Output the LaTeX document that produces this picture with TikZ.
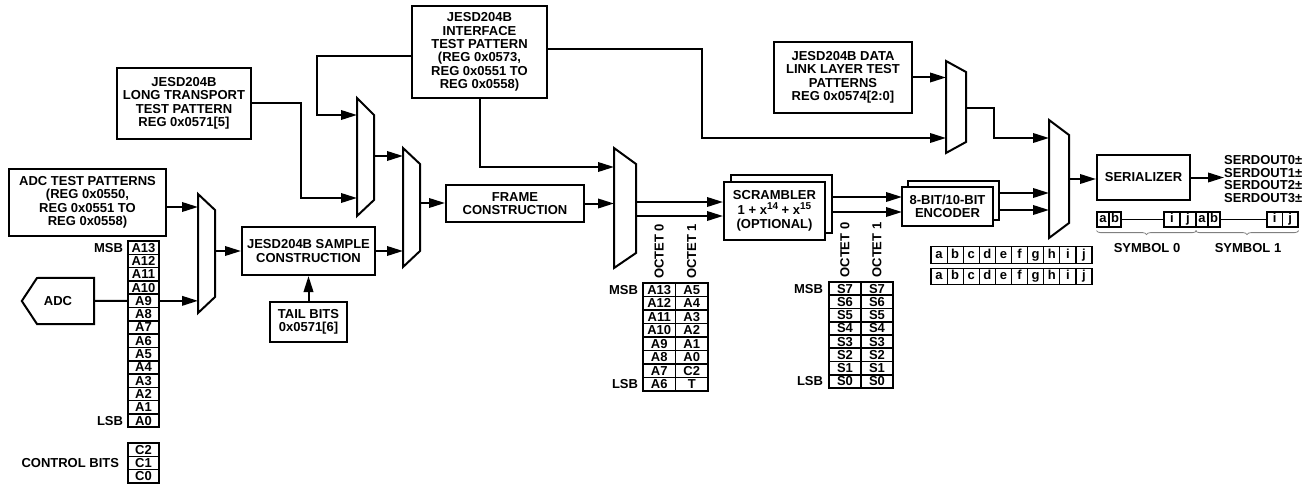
\documentclass[tikz,border=0pt]{standalone}
\usepackage{fontspec}
\setmainfont{Liberation Sans}
\usetikzlibrary{arrows.meta,decorations.pathreplacing}

\begin{document}
\begin{tikzpicture}[x=1pt, y=-1pt,
  every node/.style={font=\fontsize{13}{13.4}\selectfont\bfseries, inner sep=0pt},
  blk/.style={draw, line width=2pt, align=center},
  arr/.style={line width=2pt, -{Triangle[length=16pt,width=9.5pt]}},
  wire/.style={line width=2pt},
  muxs/.style={draw, line width=2pt, line join=miter},
  bitcell/.style={draw, line width=1.6pt, minimum height=13.3pt, minimum width=31pt},
  octcell/.style={draw, line width=1.6pt, minimum height=13.4pt, minimum width=32.5pt},
  letcell/.style={draw, line width=1.2pt, minimum height=16.5pt, minimum width=16.1pt,
    text height=9.4pt, text depth=2.6pt, font=\fontsize{13}{13}\selectfont\bfseries},
  sercell/.style={draw, line width=1.2pt, minimum height=15pt,
    text height=9.4pt, text depth=2.6pt, font=\fontsize{13}{13}\selectfont\bfseries},
  brc/.style={draw=gray, line width=0.8pt, decorate, decoration={brace, amplitude=4pt}}]
\fill[white] (0,0) rectangle (1308,484);
\useasboundingbox (0,0) rectangle (1308,484);

% test pattern sources
\node[blk, minimum width=157pt, minimum height=67pt] (adctp) at (87.5,202.5)
  {ADC TEST PATTERNS\\(REG 0x0550,\\REG 0x0551 TO\\REG 0x0558)};
\node[blk, minimum width=134pt, minimum height=71pt] (ltp) at (184,103.5)
  {JESD204B\\LONG TRANSPORT\\TEST PATTERN\\REG 0x0571[5]};
\node[blk, minimum width=135pt, minimum height=92pt] (itp) at (479.5,52)
  {JESD204B\\INTERFACE\\TEST PATTERN\\(REG 0x0573,\\REG 0x0551 TO\\REG 0x0558)};
\node[blk, minimum width=138pt, minimum height=71pt] (dll) at (843,77.5)
  {JESD204B DATA\\LINK LAYER TEST\\PATTERNS\\REG 0x0574[2:0]};

% processing blocks
\node[blk, minimum width=133pt, minimum height=48pt] (jsc) at (308.5,251)
  {JESD204B SAMPLE\\CONSTRUCTION};
\node[blk, minimum width=77pt, minimum height=40pt] (tail) at (308.5,322)
  {TAIL BITS\\0x0571[6]};
\node[blk, minimum width=138pt, minimum height=37pt] (frame) at (515,203.5)
  {FRAME\\CONSTRUCTION};
\node[blk, fill=white, minimum width=101pt, minimum height=58pt] (scrb) at (781.5,204) {};
\node[blk, fill=white, minimum width=101pt, minimum height=58pt] (scr) at (774.5,211)
  {SCRAMBLER\\[1pt]1 + x\raisebox{4.5pt}{\fontsize{10}{10}\selectfont 14} + x\raisebox{4.5pt}{\fontsize{10}{10}\selectfont 15}\\[1pt](OPTIONAL)};
\node[blk, fill=white, minimum width=91pt, minimum height=39pt] (encb) at (953.5,200.5) {};
\node[blk, fill=white, minimum width=91pt, minimum height=39pt] (enc) at (947.5,206.5)
  {8-BIT/10-BIT\\ENCODER};
\node[blk, minimum width=93pt, minimum height=45pt] (ser) at (1143.5,177.5) {SERIALIZER};
\node[anchor=west, align=left, font=\fontsize{13}{12.7}\selectfont\bfseries] (sout) at (1224,179)
  {SERDOUT0\char"00B1\\SERDOUT1\char"00B1\\SERDOUT2\char"00B1\\SERDOUT3\char"00B1};

% ADC
\node[minimum width=72pt, minimum height=46pt] (adc) at (58,301) {ADC};
\draw[wire, line join=miter] (adc.west) -- (37,278) -- (adc.north east) -- (adc.south east)
  -- (37,324) -- cycle;

% multiplexers
\draw[muxs] (198,194) -- (215,210) -- (215,297) -- (198,313) -- cycle;
\coordinate (m1a) at (198,207); \coordinate (m1b) at (198,301); \coordinate (m1o) at (215,251);
\draw[muxs] (357,98) -- (374,115) -- (374,200) -- (357,216) -- cycle;
\coordinate (m2a) at (357,115); \coordinate (m2b) at (357,198); \coordinate (m2o) at (374,156);
\draw[muxs] (403,148) -- (420,164) -- (420,251) -- (403,267) -- cycle;
\coordinate (m3a) at (403,156); \coordinate (m3b) at (403,251); \coordinate (m3o) at (420,203);
\draw[muxs] (614,148) -- (636,164) -- (636,253) -- (614,268) -- cycle;
\coordinate (m4a) at (614,167); \coordinate (m4b) at (614,204);
\coordinate (m4p) at (636,202); \coordinate (m4q) at (636,216);
\draw[muxs] (946,61) -- (966,72) -- (966,142) -- (946,153) -- cycle;
\coordinate (m5a) at (946,77); \coordinate (m5b) at (946,138); \coordinate (m5o) at (966,108);
\draw[muxs] (1049,120) -- (1069,135) -- (1069,223) -- (1049,238) -- cycle;
\coordinate (m6a) at (1049,138); \coordinate (m6b) at (1049,193); \coordinate (m6c) at (1049,210);
\coordinate (m6o) at (1069,179);
\coordinate (ena) at (902,197); \coordinate (enb) at (902,212);

% ADC sample bits
\foreach \b [count=\i from 0] in {13,12,...,0}
  \node[bitcell] (a\b) at (143.5,{247.65+13.3*\i}) {A\b};
\node[anchor=east] (msb1) at ([xshift=-4pt]a13.west) {MSB};
\node[anchor=east] (lsb1) at ([xshift=-4pt]a0.west) {LSB};
\foreach \b [count=\i from 0] in {2,1,0}
  \node[bitcell] (c\b) at (143.5,{449.65+13.3*\i}) {C\b};
\node[anchor=east] (ctrl) at ([xshift=-8pt]c1.west) {CONTROL BITS};

% octets after framing
\foreach \u/\v [count=\i from 0] in {A13/A5,A12/A4,A11/A3,A10/A2,A9/A1,A8/A0,A7/C2,A6/T} {
  \node[octcell] (fa\i) at (659.25,{289.75+13.5*\i}) {\u};
  \node[octcell] (fb\i) at (691.75,{289.75+13.5*\i}) {\v};
}
\node[rotate=90] (fo0) at (659.25,251.5) {OCTET 0};
\node[rotate=90] (fo1) at (691.75,251.5) {OCTET 1};
\node[anchor=east] (msb2) at ([xshift=-4pt]fa0.west) {MSB};
\node[anchor=east] (lsb2) at ([xshift=-4pt]fa7.west) {LSB};

% octets after scrambling
\foreach \b [count=\i from 0] in {7,6,...,0} {
  \node[octcell, minimum width=32pt, minimum height=13.25pt] (sa\i) at (845,{288.6+13.25*\i}) {S\b};
  \node[octcell, minimum width=32pt, minimum height=13.25pt] (sb\i) at (877,{288.6+13.25*\i}) {S\b};
}
\node[rotate=90] (so0) at (845,250) {OCTET 0};
\node[rotate=90] (so1) at (877,250) {OCTET 1};
\node[anchor=east] (msb3) at ([xshift=-5pt]sa0.west) {MSB};
\node[anchor=east] (lsb3) at ([xshift=-5pt]sa7.west) {LSB};

% 10-bit symbols
\foreach \c [count=\i from 0] in {a,...,j} {
  \node[letcell] (ea\i) at ({939.05+16.1*\i},255) {\c};
  \node[letcell] (eb\i) at ({939.05+16.1*\i},276.5) {\c};
}

% serial stream
\node[sercell, minimum width=12pt] (s0a) at (1103,219.5) {a};
\node[sercell, minimum width=12pt] (s0b) at (1115,219.5) {b};
\node[sercell, minimum width=16pt] (s0i) at (1172,219.5) {i};
\node[sercell, minimum width=16pt] (s0j) at (1188,219.5) {j};
\node[sercell, minimum width=12pt] (s1a) at (1202,219.5) {a};
\node[sercell, minimum width=12pt] (s1b) at (1214,219.5) {b};
\node[sercell, minimum width=15.5pt] (s1i) at (1274.75,219.5) {i};
\node[sercell, minimum width=15.5pt] (s1j) at (1290.25,219.5) {j};
\draw[line width=1.1pt] (s0b) -- (s0i);
\draw[line width=1.1pt] (s1b) -- (s1i);
\draw[brc] ([yshift=-3pt]s0j.south east) -- ([yshift=-3pt]s0a.south west);
\draw[brc] ([yshift=-3pt]s1j.south east) -- ([yshift=-3pt]s1a.south west);
\node (sym0) at (1147,248) {SYMBOL 0};
\node (sym1) at (1248,248) {SYMBOL 1};

% connections
\draw[arr] (m1a -| adctp.east) -- (m1a);
\draw[wire] (adc) -- (a9);
\draw[arr] (a9.east) -- (a9.east -| m1b);
\draw[arr] (m1o) -- (m1o -| jsc.west);
\draw[arr] (tail) -- (jsc);
\draw[arr] (jsc.east) -- (jsc.east -| m3b);
\draw[arr] ([yshift=-4pt]itp.west) -| ([xshift=-40pt]m2a) -- (m2a);
\draw[arr] (ltp.east) -| ([xshift=-56pt]m2b) -- (m2b);
\draw[arr] (m2o) -- (m2o -| m3a);
\draw[arr] (m3o) -- (m3o -| frame.west);
\draw[arr] (frame.east) -- (frame.east -| m4b);
\draw[arr] (itp.south) |- (m4a);
\draw[arr] (m4p) -- (m4p -| scr.west);
\draw[arr] (m4q) -- (m4q -| scr.west);
\draw[arr] (ena -| scrb.east) -- (ena);
\draw[arr] (enb -| scrb.east) -- (enb);
\draw[arr] ([yshift=3pt]itp.east) -| ([xshift=-244pt]m5b) -- (m5b);
\draw[arr] (dll.east) -- (dll.east -| m5a);
\draw[arr] (m5o) -| ([xshift=-55pt]m6a) -- (m6a);
\draw[arr] (encb.east |- m6b) -- (m6b);
\draw[arr] (encb.east |- m6c) -- (m6c);
\draw[arr] (m6o) -- (m6o -| ser.west);
\draw[arr] (ser.east) -- (ser.east -| sout.west);
\end{tikzpicture}
\end{document}
